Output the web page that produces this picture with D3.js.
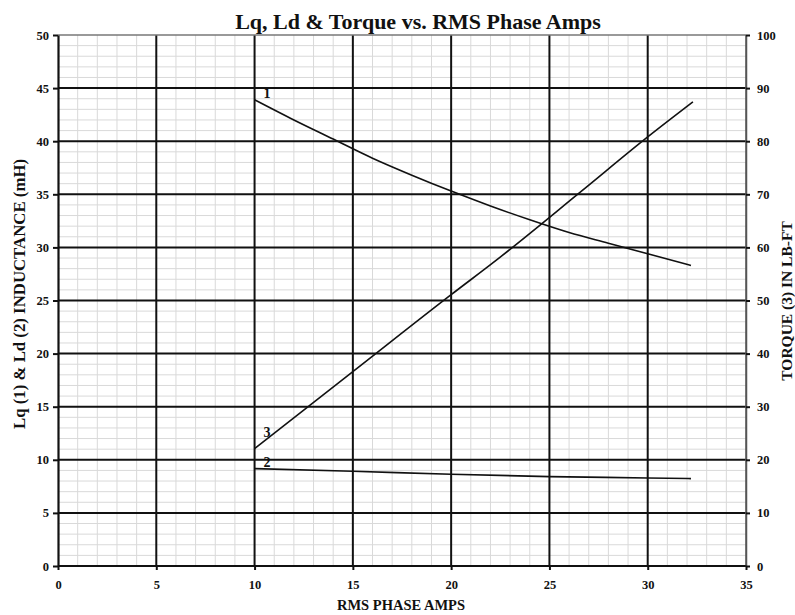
<!DOCTYPE html>
<html><head><meta charset="utf-8">
<script src="https://cdn.jsdelivr.net/npm/d3@7"></script>
<style>
body{margin:0;background:#fff;}
text{font-family:"Liberation Serif","Times New Roman",serif;font-weight:bold;fill:#111;}
</style></head>
<body><svg id="chart" width="795" height="615"></svg>
<script>
// ---- data ----
const xTicks = [0,5,10,15,20,25,30,35];
const yLeftTicks = [0,5,10,15,20,25,30,35,40,45,50];
const yRightTicks = [0,10,20,30,40,50,60,70,80,90,100];
const lqAmps = [10,12,14,16,18,20,22,24,26,28,30,32.2];
const lqValues = [43.9,42.0,40.2,38.4,36.8,35.3,33.9,32.6,31.4,30.4,29.4,28.3];
const ldAmps = [10,15,20,25,30,32.2];
const ldValues = [9.17,8.92,8.64,8.42,8.29,8.23];
const tqAmps = [10,15,20,22.3,26.6,30,32.3];
const tqValues = [22.1,36.6,51.1,57.6,70.5,80.8,87.4];
const curveLabels = [{t:"1",x:10.45,y:44.05},{t:"3",x:10.45,y:12.1},{t:"2",x:10.45,y:9.3}];

const svg = d3.select("#chart");
const L=58, R=746, T=35, B=566;
const x = d3.scaleLinear().domain([0,35]).range([L,R]);
const yL = d3.scaleLinear().domain([0,50]).range([B,T]);
const yR = d3.scaleLinear().domain([0,100]).range([B,T]);

// minor grid
const g = svg.append("g");
g.selectAll(".mvx").data(d3.range(1,35).filter(v=>v%5)).join("line")
 .attr("x1",d=>x(d)).attr("x2",d=>x(d)).attr("y1",T).attr("y2",B)
 .attr("stroke","#d9d9d9").attr("stroke-width",1);
g.selectAll(".mhy").data(d3.range(1,50).filter(v=>v%5)).join("line")
 .attr("y1",d=>yL(d)).attr("y2",d=>yL(d)).attr("x1",L).attr("x2",R)
 .attr("stroke","#d9d9d9").attr("stroke-width",1);
// major grid
g.selectAll(".Mvx").data(xTicks.filter(v=>v>0&&v<35)).join("line")
 .attr("x1",d=>x(d)).attr("x2",d=>x(d)).attr("y1",T).attr("y2",B)
 .attr("stroke","#111").attr("stroke-width",2);
g.selectAll(".Mhy").data(yLeftTicks.filter(v=>v>0&&v<50)).join("line")
 .attr("y1",d=>yL(d)).attr("y2",d=>yL(d)).attr("x1",L).attr("x2",R)
 .attr("stroke","#111").attr("stroke-width",2);
// border top/right
g.append("line").attr("x1",L).attr("x2",R).attr("y1",T).attr("y2",T).attr("stroke","#777").attr("stroke-width",1.5);
g.append("line").attr("x1",R).attr("x2",R).attr("y1",T).attr("y2",B).attr("stroke","#555").attr("stroke-width",1.5);

// axes
function styleAxis(sel){
  sel.select(".domain").attr("stroke","#111").attr("stroke-width",2.2);
  sel.selectAll(".tick line").attr("stroke","#111").attr("stroke-width",2);
  sel.selectAll(".tick text").style("font-size","12.5px").style("font-family","'Liberation Serif',serif").style("font-weight","bold").attr("fill","#222");
}
svg.append("g").attr("transform",`translate(0,${B})`)
 .call(d3.axisBottom(x).tickValues(xTicks).tickSize(4).tickPadding(10).tickSizeOuter(0))
 .call(styleAxis).call(s=>s.select(".domain").attr("d",`M${L},0H${R}`));
svg.append("g").attr("transform",`translate(${L},0)`)
 .call(d3.axisLeft(yL).tickValues(yLeftTicks).tickSize(5).tickPadding(4).tickSizeOuter(0))
 .call(styleAxis);
svg.append("g").attr("transform",`translate(${R},0)`)
 .call(d3.axisRight(yR).tickValues(yRightTicks).tickSize(4).tickPadding(7).tickSizeOuter(0))
 .call(styleAxis).call(s=>s.select(".domain").attr("stroke","#555").attr("stroke-width",1.5));

// curves
const lineL = d3.line().curve(d3.curveMonotoneX);
svg.append("path").attr("d",lineL(lqAmps.map((a,i)=>[x(a),yL(lqValues[i])])))
 .attr("fill","none").attr("stroke","#111").attr("stroke-width",1.6);
svg.append("path").attr("d",lineL(ldAmps.map((a,i)=>[x(a),yL(ldValues[i])])))
 .attr("fill","none").attr("stroke","#111").attr("stroke-width",1.6);
svg.append("path").attr("d",lineL(tqAmps.map((a,i)=>[x(a),yR(tqValues[i])])))
 .attr("fill","none").attr("stroke","#111").attr("stroke-width",1.6);

svg.selectAll(".cl").data(curveLabels).join("text")
 .attr("x",d=>x(d.x)).attr("y",d=>yL(d.y)).style("font-size","14px").text(d=>d.t);

// titles
svg.append("text").attr("x",418).attr("y",29).attr("text-anchor","middle").style("font-size","22px").text("Lq, Ld & Torque vs. RMS Phase Amps");
svg.append("text").attr("x",401).attr("y",610).attr("text-anchor","middle").style("font-size","14.5px").text("RMS PHASE AMPS");
svg.append("text").attr("transform","translate(25,294) rotate(-90)").attr("text-anchor","middle").style("font-size","16.8px").text("Lq (1) & Ld (2) INDUCTANCE (mH)");
svg.append("text").attr("transform","translate(792,301) rotate(-90)").attr("text-anchor","middle").style("font-size","15.5px").text("TORQUE (3) IN LB-FT");
</script></body></html>
